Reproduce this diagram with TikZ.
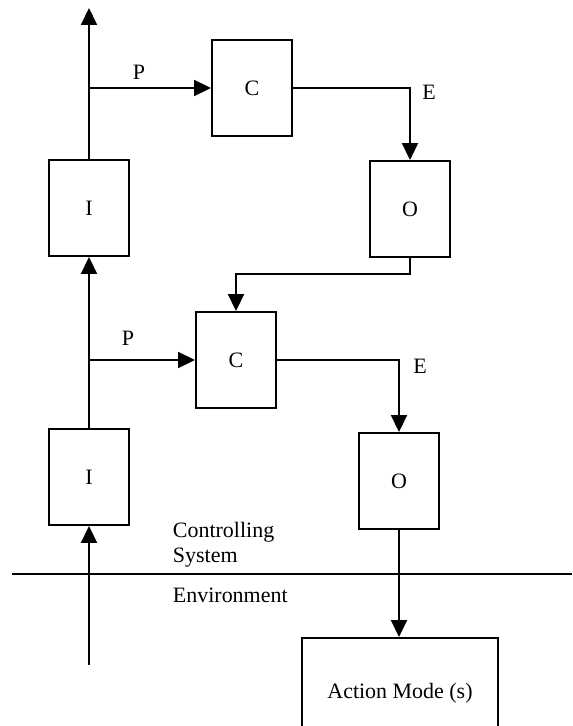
\documentclass[tikz,border=0pt]{standalone}
\usepackage{fontspec}
\setmainfont{Liberation Serif}
\usetikzlibrary{positioning,arrows.meta}

\begin{document}
\begin{tikzpicture}[
    x=0.02cm, y=-0.02cm,
    >={Triangle[length=0.34cm, width=0.32cm]},
    line width=1.1pt,
    font=\fontsize{12.5}{14.5}\selectfont,
    blk/.style={draw, line width=1.1pt, minimum width=1.6cm, minimum height=1.92cm,
                inner sep=0pt},
    lbl/.style={inner sep=0pt},
  ]
    \useasboundingbox (0,0) rectangle (572,726);

    % controlling system, two stages
    \node[blk] (i1) at (89,208)  {I};
    \node[blk] (c1) at (252,88)  {C};
    \node[blk] (o1) at (410,209) {O};
    \node[blk] (i2) at (89,477)  {I};
    \node[blk] (c2) at (236,360) {C};
    \node[blk] (o2) at (399,481) {O};
    \node[blk, minimum width=3.92cm, minimum height=2.2cm] (act) at (400,693) {Action Mode (s)};

    \coordinate (top) at (89,8);
    \coordinate (src) at (89,665);
    \coordinate (bl)  at (12,574);
    \coordinate (br)  at (572,574);

    \draw[->] (i1) -- (top);
    \draw[->] (i1.north |- c1.west) -- (c1.west);
    \draw[->] (c1.east) -| (o1.north);
    \draw[->] (o1.south) -- ++(0,16) -| (c2.north);
    \draw[->] (i2) -- (i1);
    \draw[->] (i2.north |- c2.west) -- (c2.west);
    \draw[->] (c2.east) -| (o2.north);
    \draw[->] (o2.south) -- (o2.south |- act.north);
    \draw[->] (src) -- (i2);

    % system boundary
    \draw (bl) -- (br);

    \node[lbl] (p1) at (139,72)  {P};
    \node[lbl] (p2) at (128,338) {P};
    \node[lbl] (e1) at (429,92)  {E};
    \node[lbl] (e2) at (420,366) {E};
    \node[lbl, anchor=west, align=left] (cs) at (172,545) {Controlling\\System};
    \node[lbl, anchor=west] (env) at (172,595) {Environment};
  \end{tikzpicture}
\end{document}
